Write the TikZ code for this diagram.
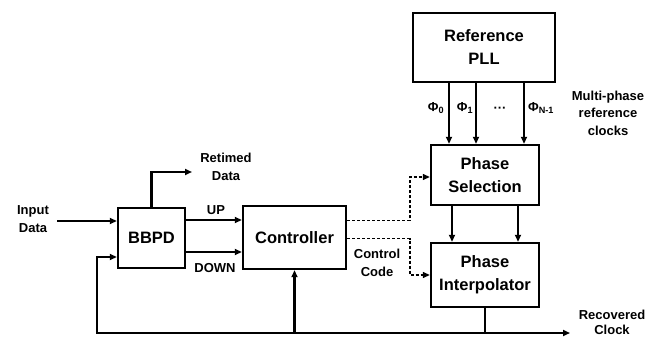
\documentclass[tikz,border=0pt]{standalone}
\usepackage{fontspec}
\setmainfont{Liberation Sans}
\usetikzlibrary{arrows.meta}
\begin{document}
\begin{tikzpicture}[x=1pt, y=-1pt, font=\bfseries, >={Triangle[length=7pt,width=6pt]},
  blk/.style={draw, line width=2.4pt, fill=white, align=center, font=\fontsize{16.5}{23}\selectfont\bfseries},
  lbl/.style={align=center, font=\fontsize{13}{17.5}\selectfont\bfseries},
  wire/.style={line width=2.2pt},
  ctl/.style={line width=1.3pt, dash pattern=on 3pt off 2pt}]
\useasboundingbox (0,0) rectangle (660,339);
% blocks
\node[blk, minimum width=67pt, minimum height=60pt] (bbpd) at (151.5,238) {BBPD};
\node[blk, minimum width=103pt, minimum height=63pt] (ctrl) at (294.5,237.5) {Controller};
\node[blk, minimum width=142pt, minimum height=69pt] (pll) at (484,47.5) {Reference\\PLL};
\node[blk, minimum width=108pt, minimum height=60pt] (psel) at (485,175) {Phase\\Selection};
\node[blk, minimum width=108pt, minimum height=64pt] (pi) at (485,275) {Phase\\Interpolator};
% free ends
\coordinate (inp) at (57,221);
\coordinate (ret) at (192,172);
\coordinate (fbl) at (97,333);
\coordinate (rclk) at (570,333);
\coordinate (d1) at (410,177);
\coordinate (d2) at (410,275);
% labels
\node[lbl] (tin) at (33,219) {Input\\Data};
\node[lbl] (tret) at (226,167) {Retimed\\Data};
\node[lbl] (tup) at (216,210) {UP};
\node[lbl] (tdn) at (215,268) {DOWN};
\node[lbl] (tcc) at (377,263) {Control\\Code};
\node[lbl] (tmp) at (608,113) {Multi-phase\\reference\\clocks};
\node[lbl, font=\fontsize{13}{15}\selectfont\bfseries] (trc) at (612,322) {Recovered\\Clock};
\node[lbl] (p0) at (436,108) {Φ\textsubscript{0}};
\node[lbl] (p1) at (465,108) {Φ\textsubscript{1}};
\node[lbl] (pd) at (500,110) {···};
\node[lbl] (pn) at (541,108) {Φ\textsubscript{N-1}};
% data path
\draw[wire, ->] (inp) -- (inp -| bbpd.west);
\draw[wire, ->] (bbpd.north) |- (ret);
\draw[wire, ->] ([yshift=18pt]bbpd.east) -- ([yshift=18pt]bbpd.east -| ctrl.west);
\draw[wire, ->] ([yshift=-14pt]bbpd.east) -- ([yshift=-14pt]bbpd.east -| ctrl.west);
% reference clocks
\foreach \px in {449,476,524}
  \draw[wire, ->] (pll.south -| \px,0) -- (psel.north -| \px,0);
\foreach \px in {452,518}
  \draw[wire, ->] (psel.south -| \px,0) -- (pi.north -| \px,0);
% control code
\draw[ctl, ->] ([yshift=17pt]ctrl.east) -| (d1) -- (d1 -| psel.west);
\draw[ctl, ->] ([yshift=-1pt]ctrl.east) -| (d2) -- (d2 -| pi.west);
% recovered clock and feedback
\draw[wire, ->] (pi.south) |- (rclk);
\draw[wire, ->] (pi.south |- fbl) -- (fbl) |- ([yshift=-19pt]bbpd.west);
\draw[wire, ->] (ctrl.south |- fbl) -- (ctrl.south);
\end{tikzpicture}
\end{document}
